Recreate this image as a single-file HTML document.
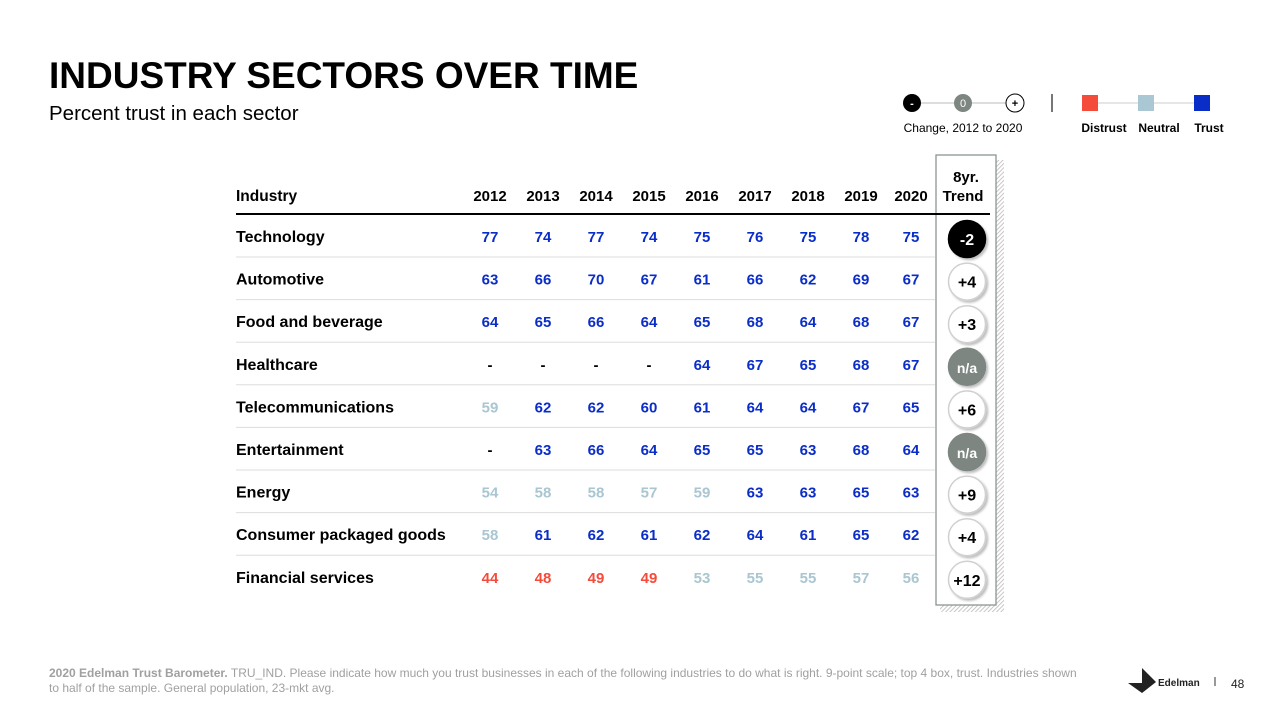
<!DOCTYPE html>
<html><head><meta charset="utf-8">
<style>
body{margin:0;width:1265px;height:708px;background:#fff;font-family:"Liberation Sans",Arial,sans-serif;overflow:hidden;position:relative}
</style></head>
<body>
<svg id="s" width="1265" height="708" xmlns="http://www.w3.org/2000/svg" style="position:absolute;left:0;top:0">
<defs>
<pattern id="hatch" width="3" height="3" patternUnits="userSpaceOnUse" patternTransform="rotate(45)">
<rect width="3" height="3" fill="#fff"/><line x1="0" y1="0" x2="0" y2="3" stroke="#b5b5b5" stroke-width="1.5"/>
</pattern>
<filter id="sh" x="-30%" y="-30%" width="160%" height="160%"><feDropShadow dx="2" dy="2" stdDeviation="1" flood-color="#000" flood-opacity="0.25"/></filter>
</defs>
<text x="49" y="88" font-size="37" font-weight="bold" fill="#000">INDUSTRY SECTORS OVER TIME</text>
<text x="49" y="120" font-size="20.5" fill="#000">Percent trust in each sector</text>
<g>
<line x1="912" y1="103" x2="1015" y2="103" stroke="#bbb" stroke-width="1"/>
<circle cx="912" cy="103" r="9" fill="#000"/><text x="912" y="107" font-size="11" fill="#fff" text-anchor="middle" font-weight="bold">-</text>
<circle cx="963" cy="103" r="9" fill="#7d8681"/><text x="963" y="107" font-size="11" fill="#fff" text-anchor="middle">0</text>
<circle cx="1015" cy="103" r="9" fill="#fff" stroke="#000" stroke-width="1"/><text x="1015" y="107" font-size="11" fill="#000" text-anchor="middle" font-weight="bold">+</text>
<text x="963" y="132" font-size="12" text-anchor="middle" fill="#000">Change, 2012 to 2020</text>
</g>
<line x1="1052" y1="94" x2="1052" y2="112" stroke="#777" stroke-width="2"/>
<g>
<line x1="1090" y1="103" x2="1202" y2="103" stroke="#ccc" stroke-width="1"/>
<rect x="1082" y="95" width="16" height="16" fill="#f54b3a"/>
<rect x="1138" y="95" width="16" height="16" fill="#aac8d3"/>
<rect x="1194" y="95" width="16" height="16" fill="#0a2dc8"/>
<text x="1104" y="132" font-size="12" font-weight="bold" text-anchor="middle">Distrust</text>
<text x="1159" y="132" font-size="12" font-weight="bold" text-anchor="middle">Neutral</text>
<text x="1209" y="132" font-size="12" font-weight="bold" text-anchor="middle">Trust</text>
</g>
<rect x="940" y="160" width="64" height="452" fill="url(#hatch)"/>
<rect x="936" y="155" width="60" height="450" fill="#fff" stroke="#8b9590" stroke-width="1.3"/>
<g id="tbl"></g>
<text x="49" y="677" font-size="12" fill="#a0a0a0"><tspan font-weight="bold">2020 Edelman Trust Barometer.</tspan> TRU_IND. Please indicate how much you trust businesses in each of the following industries to do what is right. 9-point scale; top 4 box, trust. Industries shown</text>
<text x="49" y="692" font-size="12" fill="#a0a0a0">to half of the sample. General population, 23-mkt avg.</text>
<g>
<polygon points="1128,683 1150,683 1142,693" fill="#222"/>
<polygon points="1142,668 1142,693 1156,682" fill="#222"/>
<text x="1158" y="686" font-size="10" font-weight="bold" fill="#222">Edelman</text>
</g>
<line x1="1215" y1="677" x2="1215" y2="686" stroke="#333" stroke-width="1"/>
<text x="1231" y="688" font-size="12" fill="#222">48</text>
</svg>
<script>
const years=["2012","2013","2014","2015","2016","2017","2018","2019","2020"];
const industries=["Technology","Automotive","Food and beverage","Healthcare","Telecommunications","Entertainment","Energy","Consumer packaged goods","Financial services"];
const technology=[77,74,77,74,75,76,75,78,75];
const automotive=[63,66,70,67,61,66,62,69,67];
const foodBev=[64,65,66,64,65,68,64,68,67];
const healthcare=[null,null,null,null,64,67,65,68,67];
const telecom=[59,62,62,60,61,64,64,67,65];
const entertainment=[null,63,66,64,65,65,63,68,64];
const energy=[54,58,58,57,59,63,63,65,63];
const cpg=[58,61,62,61,62,64,61,65,62];
const financial=[44,48,49,49,53,55,55,57,56];
const trends=["-2","+4","+3","n/a","+6","n/a","+9","+4","+12"];
const rows=[technology,automotive,foodBev,healthcare,telecom,entertainment,energy,cpg,financial];
const NS="http://www.w3.org/2000/svg";
const g=document.getElementById('tbl');
const colX=i=>490+i*53-(i===8?3:0);
const rowY=i=>236+i*42.6;
function el(t,a,txt){const e=document.createElementNS(NS,t);for(const k in a)e.setAttribute(k,a[k]);if(txt!=null)e.textContent=txt;g.appendChild(e);return e;}
function col(v){return v==null?'#000':v<50?'#f54b3a':v<60?'#a9c6d1':'#0a2dc8';}
let h=el('text',{x:236,y:201,'font-size':15.5,'font-weight':'bold'},'Industry');

years.forEach((y,i)=>{const t=el('text',{x:colX(i),y:201,'font-size':15,'font-weight':'bold','text-anchor':'middle'},y);
});
el('text',{x:966,y:182,'font-size':15,'font-weight':'bold','text-anchor':'middle'},'8yr.');
el('text',{x:963,y:201,'font-size':15,'font-weight':'bold','text-anchor':'middle'},'Trend');
el('line',{x1:236,y1:214,x2:990,y2:214,stroke:'#000','stroke-width':2});
industries.forEach((name,r)=>{
 const y=rowY(r);
 const lbl=el('text',{x:236,y:y+6,'font-size':16,'font-weight':'bold'},name);
 
 if(r<8){el('line',{x1:236,y1:y+21,x2:935,y2:y+21,stroke:'#ddd','stroke-width':1});}
 rows[r].forEach((v,i)=>{const c=el('text',{x:colX(i),y:y+6,'font-size':15,'font-weight':'bold','text-anchor':'middle',fill:col(v)},v==null?'-':v);
 });
 const tr=trends[r];const cy=y+3;
 const fill=tr.startsWith('-')?'#000':tr==='n/a'?'#7d8681':'#fff';
 const circ=el('circle',{cx:967,cy:cy,r:18.5,fill:fill,stroke:fill==='#fff'?'#d0d0d0':fill,'stroke-width':1.5,filter:'url(#sh)'});
 
 el('text',{x:967,y:cy+6,'font-size':tr==='n/a'?14:16,'font-weight':'bold','text-anchor':'middle',fill:fill==='#fff'?'#000':'#fff'},tr);
});
</script>
</body></html>
